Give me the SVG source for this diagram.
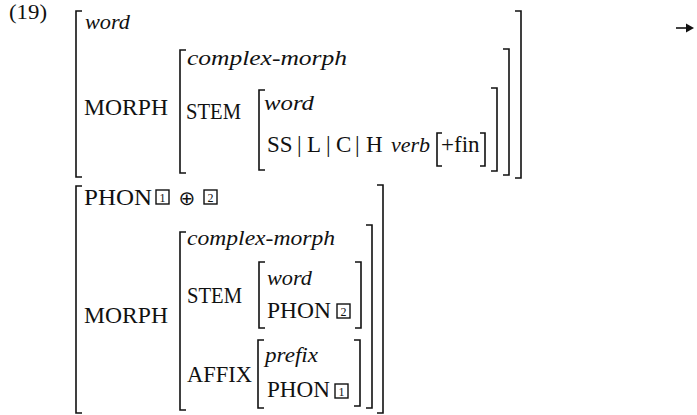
<svg xmlns="http://www.w3.org/2000/svg" width="697" height="415" viewBox="0 0 697 415">
<style>
text{font-family:"Liberation Serif","Times New Roman",serif;fill:#111}
.f{font-size:23px}
.i{font-style:italic;font-size:22px}
.b{fill:none;stroke:#111;stroke-width:1.6}
.n{font-size:12px;text-anchor:middle}
.bx{fill:none;stroke:#111;stroke-width:1.4}
.op{font-family:"DejaVu Sans",sans-serif;font-size:20px;text-anchor:middle}
</style>
<text id="label" class="f" x="9" y="19" textLength="38" lengthAdjust="spacingAndGlyphs" style="font-size:21px">(19)</text>

<g id="avm-top">
<path class="b" d="M82 11H76V177H82"/>
<path class="b" d="M515 11H521V178H515"/>
<text class="i" x="85" y="29" textLength="45" lengthAdjust="spacingAndGlyphs">word</text>
<text class="f" x="84" y="115" textLength="84" lengthAdjust="spacingAndGlyphs">MORPH</text>
<g id="top-morph">
<path class="b" d="M186 50H180V173H186"/>
<path class="b" d="M503 49H509V175H503"/>
<text class="i" x="187" y="65" textLength="160" lengthAdjust="spacingAndGlyphs">complex-morph</text>
<text class="f" x="186" y="119" textLength="55" lengthAdjust="spacingAndGlyphs">STEM</text>
<g id="top-stem">
<path class="b" d="M265 90H259V170H265"/>
<path class="b" d="M491 88H497V171H491"/>
<text class="i" x="264" y="110" textLength="50" lengthAdjust="spacingAndGlyphs">word</text>
<text class="f" y="152"><tspan x="267">SS</tspan><tspan x="297">|</tspan><tspan x="307">L</tspan><tspan x="326">|</tspan><tspan x="336">C</tspan><tspan x="355">|</tspan><tspan x="366">H</tspan><tspan x="391" font-style="italic" font-size="22">verb</tspan><tspan x="441">+fin</tspan></text>
<path class="b" d="M442 133H437V166H442"/>
<path class="b" d="M480 133H485V166H480"/>
</g>
</g>
</g>

<g id="connectors">
<path d="M676 28H688" stroke="#111" stroke-width="1.6"/>
<path d="M686 23.5L694 28L686 32.5Z" fill="#111"/>
</g>

<g id="avm-bottom">
<path class="b" d="M82 186H76V413H82"/>
<path class="b" d="M377 185H383V413H377"/>
<text class="f" x="84" y="205" textLength="68" lengthAdjust="spacingAndGlyphs">PHON</text>
<rect class="bx" x="156" y="190" width="13" height="14"/>
<text class="n" x="162.5" y="202">1</text>
<text class="op" x="187" y="205">⊕</text>
<rect class="bx" x="204" y="190" width="13" height="14"/>
<text class="n" x="210.5" y="202">2</text>
<text class="f" x="84" y="323" textLength="84" lengthAdjust="spacingAndGlyphs">MORPH</text>
<g id="bottom-morph">
<path class="b" d="M186 232H180V410H186"/>
<path class="b" d="M366 225H372V408H366"/>
<text class="i" x="187" y="245" textLength="148" lengthAdjust="spacingAndGlyphs">complex-morph</text>
<text class="f" x="187" y="303" textLength="55" lengthAdjust="spacingAndGlyphs">STEM</text>
<g id="bottom-stem">
<path class="b" d="M265 262H259V328H265"/>
<path class="b" d="M355 262H361V328H355"/>
<text class="i" x="267" y="285" textLength="45" lengthAdjust="spacingAndGlyphs">word</text>
<text class="f" x="267" y="318" textLength="64" lengthAdjust="spacingAndGlyphs">PHON</text>
<rect class="bx" x="337" y="304" width="13" height="14"/>
<text class="n" x="343.5" y="316">2</text>
</g>
<text class="f" x="187" y="382" textLength="65" lengthAdjust="spacingAndGlyphs">AFFIX</text>
<g id="bottom-affix">
<path class="b" d="M264 340H258V408H264"/>
<path class="b" d="M354 340H360V406H354"/>
<text class="i" x="265" y="362" textLength="53" lengthAdjust="spacingAndGlyphs">prefix</text>
<text class="f" x="267" y="397" textLength="63" lengthAdjust="spacingAndGlyphs">PHON</text>
<rect class="bx" x="335" y="384" width="13" height="14"/>
<text class="n" x="341.5" y="396">1</text>
</g>
</g>
</g>
</svg>
